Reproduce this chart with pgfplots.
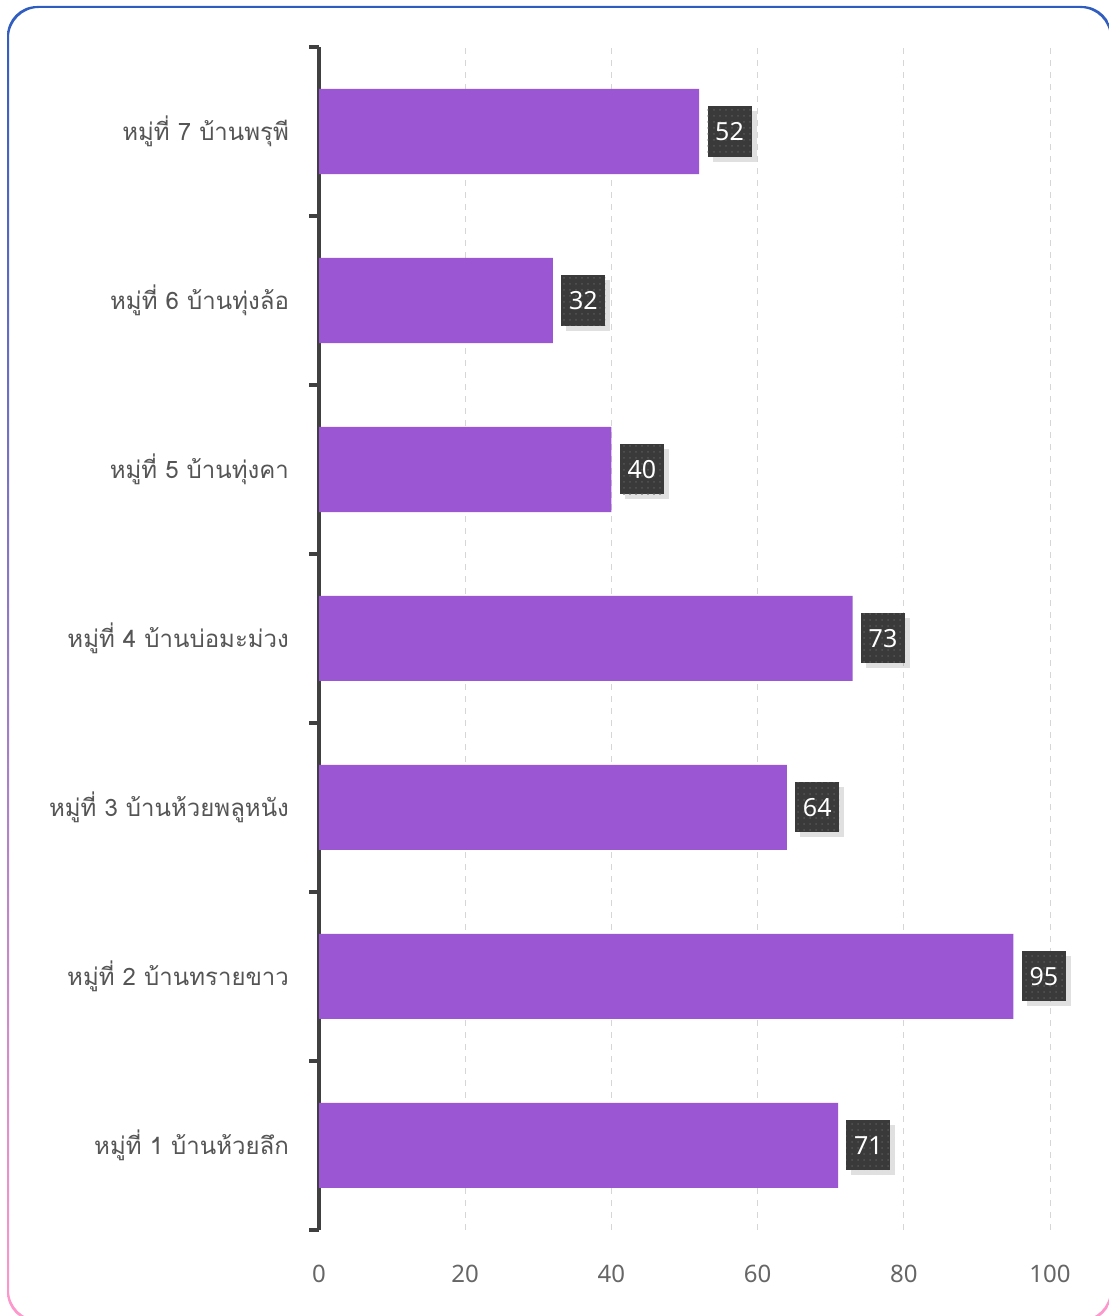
\documentclass[border=0pt]{standalone}
\usepackage{fontspec}
\setmainfont[Script=Thai]{Loma}
\newfontfamily\numfont{Noto Sans}
\usepackage{pgfplots}
\pgfplotsset{compat=1.18}
\usetikzlibrary{patterns}

\definecolor{barpurple}{HTML}{9B57D3}
\definecolor{boxgray}{HTML}{3A3A3A}
\definecolor{dotgray}{HTML}{555555}
\definecolor{axisgray}{HTML}{404040}
\definecolor{labgray}{HTML}{555555}
\definecolor{tickgray}{HTML}{666666}
\definecolor{gridgray}{HTML}{D6D6D6}
\definecolor{frameblue}{HTML}{2F5DBF}
\definecolor{framepink}{HTML}{FF99CC}

% bars below the axis line, grid below the bars
\pgfplotsset{layers/barsunder/.define layer set={axis background,axis grid,main,axis ticks,axis lines,axis tick labels,axis descriptions,axis foreground}{}}

\begin{document}
\begin{tikzpicture}
\begin{axis}[
  set layers=barsunder,
  at={(159.5pt,43pt)}, anchor=south west,
  scale only axis, width=365.5pt, height=591.5pt,
  xbar, bar width=42.5pt,
  xmin=0, xmax=100, ymin=0.5, ymax=7.5,
  xtick={0,20,...,100}, ytick={1,...,7},
  yticklabels={หมู่ที่ 1 บ้านห้วยลึก,หมู่ที่ 2 บ้านทรายขาว,หมู่ที่ 3 บ้านห้วยพลูหนัง,หมู่ที่ 4 บ้านบ่อมะม่วง,หมู่ที่ 5 บ้านทุ่งคา,หมู่ที่ 6 บ้านทุ่งล้อ,หมู่ที่ 7 บ้านพรุพี},
  minor ytick={0.5,1.5,...,7.5},
  axis lines=left,
  x axis line style={draw=none},
  y axis line style={-, line width=2pt, axisgray},
  major tick length=0pt, minor tick length=5pt, tick align=outside,
  minor tick style={line width=2pt, axisgray},
  xmajorgrids, grid style={dashed, gridgray, line width=0.5pt},
  /pgf/number format/assume math mode=true,
  xticklabel style={font=\numfont\fontsize{12}{15}\selectfont, text=tickgray, yshift=-14pt},
  yticklabel style={font=\fontsize{12}{15}\selectfont, text=labgray, xshift=-11.5pt},
  nodes near coords,
  every node near coord/.append style={anchor=west, xshift=4pt, fill=boxgray, text=white,
    font=\numfont\fontsize{12.5}{15}\selectfont, minimum width=22pt, minimum height=25pt, inner sep=1pt,
    preaction={fill=black, opacity=0.12, transform canvas={xshift=2.5pt, yshift=-2.5pt}},
    postaction={pattern=dots, pattern color=dotgray}},
]
\addplot[draw=none, fill=barpurple] coordinates {(71,1) (95,2) (64,3) (73,4) (40,5) (32,6) (52,7)};
\end{axis}
\useasboundingbox (0pt,0pt) rectangle (554pt,658pt);
% frame
\shade[top color=frameblue, bottom color=framepink, even odd rule, rounded corners=15pt]
  (3.5pt,-3pt) rectangle (556pt,655pt)
  (4.5pt,-2pt) rectangle (555pt,654pt);
\end{tikzpicture}
\end{document}
